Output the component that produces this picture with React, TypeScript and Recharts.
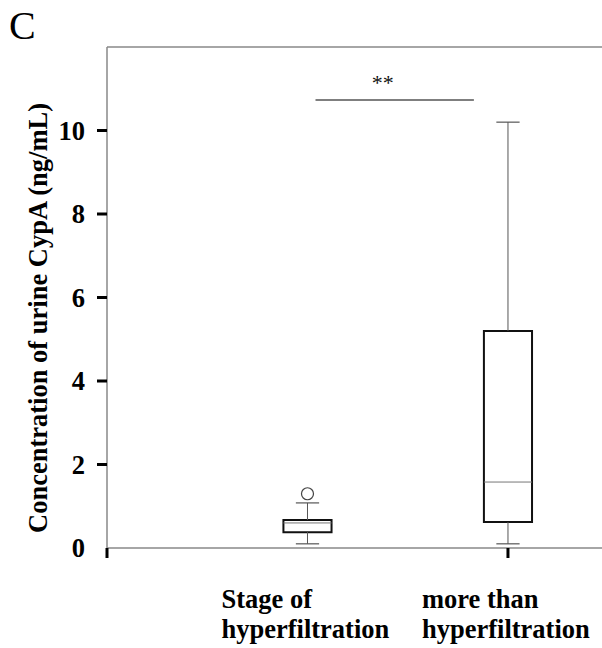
import React from 'react';
import { ComposedChart, XAxis, YAxis, ReferenceLine, ReferenceArea, Scatter } from 'recharts';

const groupPositions = [1, 2];
const groupLabels = [
  ['Stage of', 'hyperfiltration'],
  ['more than', 'hyperfiltration'],
];
const whiskerLow = [0.1, 0.1];
const quartile1 = [0.38, 0.62];
const medians = [0.6, 1.58];
const quartile3 = [0.67, 5.2];
const whiskerHigh = [1.08, 10.2];
const outliers = [{ x: 1, y: 1.3 }];
const yTicks = [0, 2, 4, 6, 8, 10];
const xTickMarks = [0, 2];
const significance = { x1: 1.04, x2: 1.83, y: 10.73, text: '**' };

const FONT = '"Liberation Serif", "Times New Roman", serif';
const FS = 26.5;
const BOX_HALF = 0.12;
const CAP_HALF = 0.058;

const XTick = (props: any) => {
  const { x, y, payload } = props;
  const v = payload.value;
  const idx = groupPositions.indexOf(v);
  return (
    <g>
      {xTickMarks.includes(v) && <rect x={x - 1.5} y={y} width={3} height={10} fill="#000" />}
      {idx >= 0 && (
        <text x={x - 86} y={y + 60} fontFamily={FONT} fontWeight="bold" fontSize={FS} fill="#000">
          <tspan x={x - 86} dy={0}>{groupLabels[idx][0]}</tspan>
          <tspan x={x - 86} dy={30}>{groupLabels[idx][1]}</tspan>
        </text>
      )}
    </g>
  );
};

const YTick = (props: any) => {
  const { x, y, payload } = props;
  return (
    <g>
      {payload.value !== 0 && <rect x={x - 10} y={y - 1.5} width={10} height={3} fill="#000" />}
      <text x={x - 22} y={y + 9} textAnchor="end" fontFamily={FONT} fontWeight="bold" fontSize={FS} fill="#000">
        {payload.value}
      </text>
    </g>
  );
};

export default function App() {
  return (
    <div style={{ position: 'absolute', left: 0, top: 0, width: 602, height: 648, background: '#fff' }}>
      <ComposedChart width={602} height={648} margin={{ top: 47, right: 0, bottom: 0, left: 0 }}>
        <XAxis
          dataKey="x"
          type="number"
          domain={[0, 2.469]}
          ticks={[0, 1, 2]}
          allowDataOverflow
          height={100}
          tickSize={0}
          tickMargin={0}
          tickLine={false}
          stroke="#888"
          strokeWidth={1.5}
          tick={<XTick />}
        />
        <YAxis
          type="number"
          domain={[0, 12]}
          ticks={yTicks}
          width={107}
          tickSize={0}
          tickMargin={0}
          tickLine={false}
          stroke="#888"
          strokeWidth={1.5}
          tick={<YTick />}
        />
        <ReferenceLine y={12} stroke="#888" strokeWidth={1.5} />
        {groupPositions.map((p, i) => (
          <React.Fragment key={i}>
            <ReferenceLine segment={[{ x: p, y: whiskerLow[i] }, { x: p, y: quartile1[i] }]} stroke="#555" strokeWidth={1} />
            <ReferenceLine segment={[{ x: p, y: quartile3[i] }, { x: p, y: whiskerHigh[i] }]} stroke="#555" strokeWidth={1} />
            <ReferenceLine segment={[{ x: p - CAP_HALF, y: whiskerLow[i] }, { x: p + CAP_HALF, y: whiskerLow[i] }]} stroke="#555" strokeWidth={1.2} />
            <ReferenceLine segment={[{ x: p - CAP_HALF, y: whiskerHigh[i] }, { x: p + CAP_HALF, y: whiskerHigh[i] }]} stroke="#555" strokeWidth={1.2} />
            <ReferenceArea x1={p - BOX_HALF} x2={p + BOX_HALF} y1={quartile1[i]} y2={quartile3[i]} fill="#fff" fillOpacity={1} stroke="#111" strokeWidth={2} />
            <ReferenceLine segment={[{ x: p - BOX_HALF, y: medians[i] }, { x: p + BOX_HALF, y: medians[i] }]} stroke="#777" strokeWidth={1} />
          </React.Fragment>
        ))}
        <ReferenceLine
          segment={[{ x: significance.x1, y: significance.y }, { x: significance.x2, y: significance.y }]}
          stroke="#555"
          strokeWidth={1.5}
          label={{ value: significance.text, position: 'top', offset: 10, dx: -12, fontFamily: FONT, fontSize: 22, fill: '#111' }}
        />
        <Scatter
          data={outliers}
          dataKey="y"
          isAnimationActive={false}
          shape={(p: any) => <circle cx={p.cx} cy={p.cy} r={6} fill="#fff" stroke="#444" strokeWidth={1.2} />}
        />
      </ComposedChart>
      <svg width={602} height={648} style={{ position: 'absolute', left: 0, top: 0, pointerEvents: 'none' }}>
        <text x={9} y={39} fontFamily={FONT} fontSize={40} fill="#000">C</text>
        <text
          x={0}
          y={0}
          transform="translate(47,318) rotate(-90)"
          textAnchor="middle"
          fontFamily={FONT}
          fontWeight="bold"
          fontSize={FS}
          fill="#000"
        >
          Concentration of urine CypA (ng/mL)
        </text>
      </svg>
    </div>
  );
}
